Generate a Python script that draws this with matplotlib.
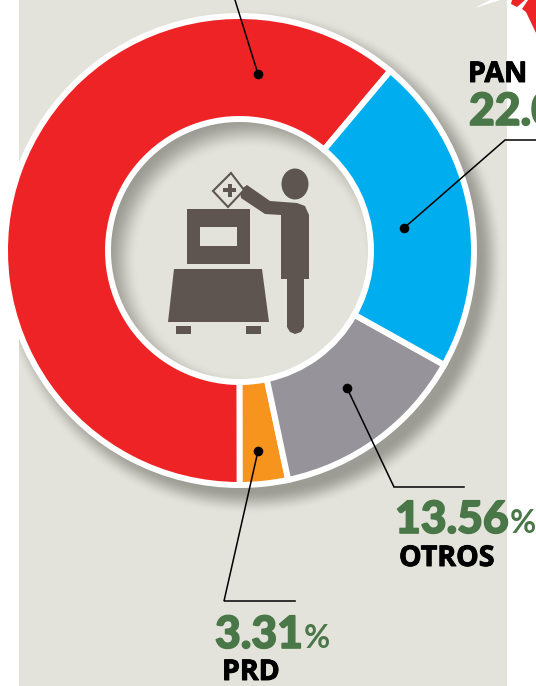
import matplotlib
matplotlib.use("Agg")
import matplotlib.pyplot as plt
import matplotlib.patheffects as pe
import numpy as np
from matplotlib.patches import Ellipse, Polygon, Rectangle

# shares in %, counter clockwise from the red/blue border
partidos = ["PRI", "PRD", "OTROS", "PAN"]
porcentajes = [61.13, 3.31, 13.56, 22.0]
colores = ["#EE2326", "#F7941E", "#96949A", "#00AEEF"]

W, H = 536, 686
BG = "#E3E3DB"
ICON = "#5E5450"
GREEN = "#4A7747"
cx, cy = 239.5, 250.5


def py(y):
    # picture coords have y going down
    return H - y


fig = plt.figure(figsize=(W / 100, H / 100), dpi=100, facecolor="white")
ax = fig.add_axes([0, 0, 1, 1])

# panel + soft shadow of the ring
ax.add_patch(Rectangle((19, 0), 488, H, fc=BG, ec="none", zorder=0))
xx, yy = np.meshgrid(np.arange(19, 507) + 0.5, np.arange(0, H) + 0.5)
d = np.hypot(xx - (cx + 11), yy - (cy + 11))
out = np.clip((253 - d) / 24, 0, 1)
inn = np.clip((d - 113) / 30, 0, 1)
alpha = (out * out * (3 - 2 * out)) * (inn * inn * (3 - 2 * inn))
shadow = np.zeros(alpha.shape + (4,))
shadow[..., :3] = matplotlib.colors.to_rgb("#9C9C94")
shadow[..., 3] = alpha
ax.imshow(shadow, extent=(19, 507, py(H), py(0)), zorder=1, interpolation="bilinear")

# donut, white edge gives the white rims and separators
ax.pie(porcentajes, colors=colores, startangle=50, counterclock=True,
       center=(cx, py(cy)), radius=234.5, normalize=True,
       wedgeprops={"width": 103, "edgecolor": "white", "linewidth": 4.3, "zorder": 2})

ax.set_xlim(0, W)
ax.set_ylim(0, H)
ax.set_aspect("equal")
ax.axis("off")


def poly(pts, **kw):
    ax.add_patch(Polygon([(x, py(y)) for x, y in pts], closed=True, zorder=4, **kw))


def rect(x0, y0, x1, y1, c):
    ax.add_patch(Rectangle((x0, py(y1)), x1 - x0, y1 - y0, fc=c, ec="none", zorder=4))


# voter icon
rect(187, 209, 250, 264, ICON)
rect(200, 227, 237, 246, BG)
poly([(174, 269), (262, 269), (269, 322), (168, 322)], fc=ICON, ec="none")
rect(176, 326, 191, 334, ICON)
rect(246, 326, 261, 334, ICON)
ax.add_patch(Ellipse((295, py(184)), 27, 31, fc=ICON, ec="none", zorder=4))
poly([(240, 190), (247, 185), (270, 201), (297, 203), (305, 206), (309, 215),
      (309, 279), (304, 279), (304, 327), (301, 332), (295, 334), (290, 332),
      (287, 327), (287, 279), (281, 279), (281, 215), (265, 214), (241, 198)],
     fc=ICON, ec="none")
poly([(231, 173), (244, 190), (228, 207), (213, 191)], fc=BG, ec=ICON, lw=1.5)
rect(223, 188, 236, 192, ICON)
rect(227.5, 183.5, 231.5, 196.5, ICON)

# leader lines
lineas = [
    [(258, 74), (235, 0)],
    [(404, 228), (505, 140), (536, 140)],
    [(347, 388), (394, 487), (464, 487)],
    [(258, 451), (224, 601), (295, 601)],
]
for ln in lineas:
    ax.plot([p[0] for p in ln], [py(p[1]) for p in ln], color="black", lw=1.1,
            zorder=5, solid_joinstyle="miter")
    ax.scatter([ln[0][0]], [py(ln[0][1])], s=48, color="black", zorder=6, linewidths=0)


def num(x, y, s, pct=True):
    t = ax.text(x, py(y), s, color=GREEN, fontsize=32, family="Lato", weight="black",
                ha="left", va="baseline", zorder=7,
                path_effects=[pe.withStroke(linewidth=1.2, foreground=GREEN)])
    if pct:
        bb = t.get_window_extent(fig.canvas.get_renderer())
        ax.text(bb.x1 + 1, py(y), "%", color=GREEN, fontsize=23, family="Lato",
                weight="bold", ha="left", va="baseline", zorder=7)


def lab(x, y, s):
    ax.text(x, py(y), s, color="black", fontsize=20.5, family="Open Sans", weight="bold",
            ha="left", va="baseline", zorder=7,
            path_effects=[pe.withStroke(linewidth=0.7, foreground="black")])


lab(468, 82, "PAN")
num(469, 125, "22.0", pct=False)
num(395, 533, "13.56")
lab(399, 566, "OTROS")
num(215, 648, "3.31")
lab(222, 680, "PRD")

# bits of the next graphic at the top edge
poly([(475, 8), (490, 0), (500, 0)], fc="white", ec="none")
poly([(512, 0), (525, 0), (517, 7), (511, 4)], fc="#EE2326", ec="none")
poly([(528, 0), (536, 0), (536, 33), (526, 12), (522, 9)], fc="#EE2326", ec="none")

fig.savefig("out.png", dpi=100)
